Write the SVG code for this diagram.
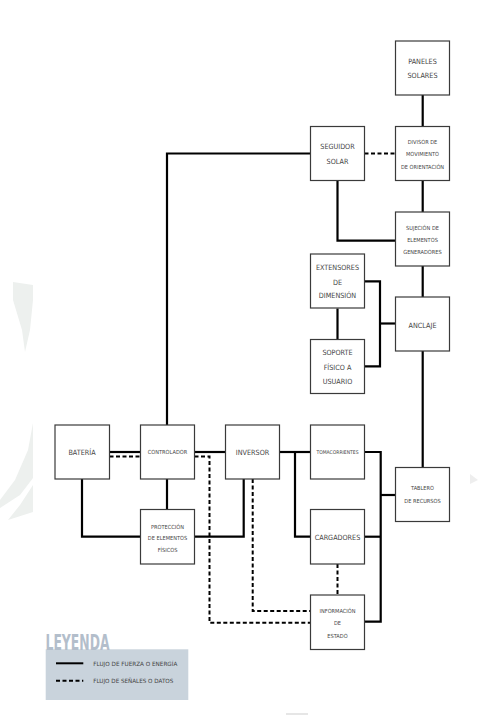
<svg xmlns="http://www.w3.org/2000/svg" width="480" height="720" viewBox="0 0 480 720">
<style>
.box{fill:#fff;stroke:#3a3a3a;stroke-width:1.2}
.t{font-family:"DejaVu Sans","Liberation Sans",sans-serif;font-stretch:condensed;fill:#444;text-anchor:middle;dominant-baseline:central}
.s{font-size:5.6px}
.m{font-size:7.2px}
.solid{fill:none;stroke:#000;stroke-width:2.2}
.dash{fill:none;stroke:#000;stroke-width:2;stroke-dasharray:4 2.5}
</style>
<rect width="480" height="720" fill="#fff"/>
<g id="watermark" fill="#edf0ee">
<path d="M13 282 L33 285 L33 300 L30 330 L25 352 L22 330 L13 300 Z"/>
<path d="M33 423 L28 450 L15 480 L0 500 L0 508 L20 495 L33 478 Z"/>
<path d="M33 485 L20 505 L8 520 L33 512 Z"/>
<path d="M470 474 L478 480 L470 484 Z" fill="#eeeeee"/>
<rect x="286" y="713" width="22" height="2" fill="#e6e6e6"/>
</g>
<g id="connectors">
<line class="solid" x1="422.7" y1="95" x2="422.7" y2="127"/>
<line class="solid" x1="422.7" y1="180" x2="422.7" y2="212"/>
<line class="solid" x1="422.7" y1="266" x2="422.7" y2="297"/>
<line class="solid" x1="422.7" y1="351" x2="422.7" y2="467"/>
<line class="dash" x1="364.5" y1="153.5" x2="395.5" y2="153.5"/>
<polyline class="solid" points="337.5,180 337.5,240.7 395.5,240.7"/>
<polyline class="solid" points="364.5,281.3 380,281.3 380,366.3 364.5,366.3"/>
<line class="solid" x1="380" y1="323.5" x2="395.5" y2="323.5"/>
<line class="solid" x1="337.5" y1="308.5" x2="337.5" y2="339.5"/>
<polyline class="solid" points="167,425 167,153.5 310.5,153.5"/>
<line class="solid" x1="109.5" y1="452" x2="140.5" y2="452"/>
<line class="dash" x1="109.5" y1="456.5" x2="140.5" y2="456.5"/>
<line class="solid" x1="194.5" y1="452" x2="225.5" y2="452"/>
<line class="solid" x1="167" y1="479" x2="167" y2="509.5"/>
<polyline class="solid" points="82,479 82,536.7 140.5,536.7"/>
<polyline class="solid" points="194.5,536.7 243.7,536.7 243.7,479"/>
<polyline class="dash" points="194.5,456.5 209.5,456.5 209.5,622.7 310.5,622.7"/>
<polyline class="dash" points="252.7,479 252.7,611 310.5,611"/>
<line class="solid" x1="279.5" y1="452" x2="310.5" y2="452"/>
<polyline class="solid" points="295,452 295,536.7 310.5,536.7"/>
<polyline class="solid" points="364.5,452 380.7,452 380.7,621.7 364.5,621.7"/>
<line class="solid" x1="364.5" y1="536.7" x2="380.7" y2="536.7"/>
<line class="solid" x1="380.7" y1="495" x2="395.5" y2="495"/>
<line class="dash" x1="337.5" y1="564" x2="337.5" y2="595"/>
</g>
<g id="paneles"><rect class="box" x="395.5" y="41" width="54" height="54"/><text class="t m" x="422.5" y="61.7">PANELES</text><text class="t m" x="422.5" y="75.7">SOLARES</text></g>
<g id="seguidor"><rect class="box" x="310.5" y="126.5" width="54" height="54"/><text class="t m" x="337.5" y="146.7">SEGUIDOR</text><text class="t m" x="337.5" y="161">SOLAR</text></g>
<g id="divisor"><rect class="box" x="395.5" y="126.5" width="54" height="54"/><text class="t s" x="422.5" y="141.7">DIVISOR DE</text><text class="t s" x="422.5" y="153.5">MOVIMIENTO</text><text class="t s" x="422.5" y="166.7">DE ORIENTACIÓN</text></g>
<g id="sujecion"><rect class="box" x="395.5" y="212" width="54" height="54"/><text class="t s" x="422.5" y="228.3">SUJECIÓN DE</text><text class="t s" x="422.5" y="240">ELEMENTOS</text><text class="t s" x="422.5" y="251.5">GENERADORES</text></g>
<g id="extensores"><rect class="box" x="310.5" y="254" width="54" height="54"/><text class="t m" x="337.5" y="267.3">EXTENSORES</text><text class="t m" x="337.5" y="282.3">DE</text><text class="t m" x="337.5" y="295.7">DIMENSIÓN</text></g>
<g id="soporte"><rect class="box" x="310.5" y="339.5" width="54" height="54"/><text class="t m" x="337.5" y="352.7">SOPORTE</text><text class="t m" x="337.5" y="367.3">FÍSICO A</text><text class="t m" x="337.5" y="381.3">USUARIO</text></g>
<g id="anclaje"><rect class="box" x="395.5" y="297" width="54" height="54"/><text class="t m" x="422.5" y="325">ANCLAJE</text></g>
<g id="bateria"><rect class="box" x="55" y="425" width="54.5" height="54"/><text class="t m" x="82" y="452.3">BATERÍA</text></g>
<g id="controlador"><rect class="box" x="140.5" y="425" width="54" height="54"/><text class="t s" x="167.5" y="452">CONTROLADOR</text></g>
<g id="proteccion"><rect class="box" x="140.5" y="509.5" width="54" height="54.5"/><text class="t s" x="167.5" y="526.7">PROTECCIÓN</text><text class="t s" x="167.5" y="538">DE ELEMENTOS</text><text class="t s" x="167.5" y="550">FÍSICOS</text></g>
<g id="inversor"><rect class="box" x="225.5" y="425" width="54" height="54"/><text class="t m" x="252.5" y="452">INVERSOR</text></g>
<g id="tomacorrientes"><rect class="box" x="310.5" y="425" width="54" height="54"/><text class="t" style="font-size:5px" x="337.5" y="452">TOMACORRIENTES</text></g>
<g id="cargadores"><rect class="box" x="310.5" y="509.5" width="54" height="54.5"/><text class="t m" x="337.5" y="537.7">CARGADORES</text></g>
<g id="informacion"><rect class="box" x="310.5" y="595" width="54" height="54.5"/><text class="t s" x="337.5" y="611">INFORMACIÓN</text><text class="t s" x="337.5" y="623.3">DE</text><text class="t s" x="337.5" y="636">ESTADO</text></g>
<g id="tablero"><rect class="box" x="395.5" y="467.5" width="54" height="54"/><text class="t s" x="422.5" y="488.3">TABLERO</text><text class="t s" x="422.5" y="500.7">DE RECURSOS</text></g>
<g id="leyenda">
<rect x="45.7" y="649.3" width="142.6" height="50.7" fill="#c9d3dc"/>
<text x="45.5" y="650" font-family="DejaVu Sans,Liberation Sans,sans-serif" font-weight="bold" font-size="22" fill="#b3becb" textLength="64" lengthAdjust="spacingAndGlyphs">LEYENDA</text>
<line x1="56" y1="663.3" x2="83.3" y2="663.3" stroke="#000" stroke-width="2"/>
<line x1="56" y1="680.7" x2="83.3" y2="680.7" stroke="#000" stroke-width="2" stroke-dasharray="4 2.5"/>
<text x="93.3" y="663.5" font-family="DejaVu Sans,Liberation Sans,sans-serif" font-size="5.8" fill="#444" dominant-baseline="central" textLength="84" lengthAdjust="spacingAndGlyphs">FLUJO DE FUERZA O ENERGÍA</text>
<text x="93.3" y="681" font-family="DejaVu Sans,Liberation Sans,sans-serif" font-size="5.8" fill="#444" dominant-baseline="central" textLength="80" lengthAdjust="spacingAndGlyphs">FLUJO DE SEÑALES O DATOS</text>
</g>
</svg>
